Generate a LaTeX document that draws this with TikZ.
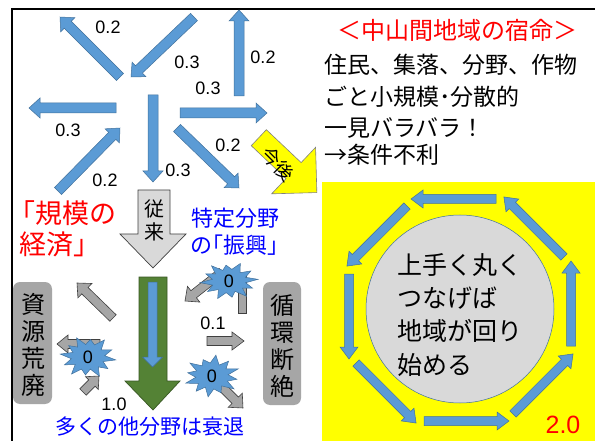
\documentclass[tikz,border=0pt]{standalone}
\usepackage{fontspec}
\setmainfont{Liberation Sans}
\newfontfamily\jp{Noto Sans CJK JP}
\newfontfamily\jpp[RawFeature=+palt]{Noto Sans CJK JP}
\definecolor{bl}{HTML}{5B9BD5}
\definecolor{blo}{HTML}{41719C}
\definecolor{gr}{HTML}{A6A6A6}
\definecolor{gro}{HTML}{404040}
\definecolor{lgr}{HTML}{D9D9D9}
\definecolor{grn}{HTML}{548235}
\definecolor{grno}{HTML}{385723}
\definecolor{txtblue}{HTML}{0000FF}
\definecolor{txtred}{HTML}{FF0000}
\definecolor{yel}{HTML}{FFFF00}
% block arrow: style, x1, y1, x2, y2, half shaft, half head, head length
\newcommand\barrow[8]{%
  \pgfmathsetmacro\baang{atan2(-((#5)-(#3)),(#4)-(#2))}%
  \pgfmathsetmacro\balen{veclen((#4)-(#2),(#5)-(#3))}%
  \pgfmathsetmacro\babase{\balen-(#8)}%
  \begin{scope}[shift={(#2,#3)},rotate=\baang]
    \path[#1] (0,-#6) -- (\babase,-#6) -- (\babase,-#7) -- (\balen,0)
      -- (\babase,#7) -- (\babase,#6) -- (0,#6) -- cycle;
  \end{scope}}
% explosion shape: name, cx, cy, rx, ry, rotation offset
\newcommand\burst[6]{%
  \path[burststyle] ({#2+#4*cos(#6)},{#3-#5*sin(#6)})
    \foreach \a/\f in {14/0.6,30/0.92,44/0.58,62/1.0,76/0.62,92/0.84,106/0.6,122/1.0,
      136/0.6,150/0.88,166/0.58,180/1.0,196/0.6,212/0.92,226/0.58,242/1.0,256/0.62,
      272/0.86,286/0.58,302/1.0,316/0.6,330/0.9,346/0.58}
    { -- ({#2+#4*\f*cos(\a+#6)},{#3-#5*\f*sin(\a+#6)}) } -- cycle;
  \node[lbl] (#1) at (#2,#3) {0};}
\tikzset{
  bluearrow/.style={fill=bl,draw=blo,line width=0.5pt},
  grayarrow/.style={fill=gr,draw=gro,line width=0.6pt},
  lbl/.style={font=\fontsize{18}{18}\selectfont,inner sep=0pt},
  burststyle/.style={fill=bl,draw=blo,line width=0.5pt},
  graybox/.style={fill=gr,rounded corners=7pt},
  vtext/.style={font=\jp\fontsize{24}{27}\selectfont,align=center,inner sep=0pt},
}
\begin{document}
\begin{tikzpicture}[x=1pt,y=-1pt]
\useasboundingbox (0,0) rectangle (595,441);
\fill[white] (0,0) rectangle (595,441);
% frame
\draw[line width=1.5pt] (12,441) -- (12,9) -- (595,9);

% --- upper-left star of blue arrows
\barrow{bluearrow}{120}{77}{60}{17}{5}{10}{11}
\barrow{bluearrow}{194}{17}{131}{77}{5}{10}{11}
\barrow{bluearrow}{239}{96}{239}{10}{5}{10}{11}
\barrow{bluearrow}{180}{113}{267}{113}{5}{10}{11}
\barrow{bluearrow}{116}{108}{29}{108}{5}{10}{11}
\barrow{bluearrow}{58}{191}{120}{128}{5}{10}{11}
\barrow{bluearrow}{153}{95}{153}{182}{5}{10}{11}
\barrow{bluearrow}{177}{128}{239}{188}{5}{10}{11}
\node[lbl] (l1) at (108,27) {0.2};
\node[lbl] (l2) at (187,62) {0.3};
\node[lbl] (l3) at (263,57) {0.2};
\node[lbl] (l4) at (208,88) {0.3};
\node[lbl] (l5) at (68,130) {0.3};
\node[lbl] (l6) at (105,180) {0.2};
\node[lbl] (l7) at (178,170) {0.3};
\node[lbl] (l8) at (228,145) {0.2};

% --- yellow arrow
\barrow{fill=yel,draw=gray,line width=0.6pt}{258.8}{137.7}{317}{192.7}{11}{32}{32}
\node[font=\jp\fontsize{19}{19}\selectfont,rotate=-45,inner sep=0pt] (kongo) at (278,164) {今後};

% --- right text
\node[font=\jp\fontsize{24}{24}\selectfont,text=txtred,inner sep=0pt] (title) at (457,30) {＜中山間地域の宿命＞};
\begin{scope}[every node/.style={font=\jp\fontsize{23}{23}\selectfont,anchor=west,inner sep=0pt}]
\node (r1) at (324,65) {住民、集落、分野、作物};
\node (r2) at (324,97) {ごと小規模･分散的};
\node (r3) at (324,128) {一見バラバラ！};
\node (r4) at (324,155) {→条件不利};
\end{scope}

% --- yellow panel
\fill[yel] (322,182) rectangle (595,441);
\node[circle,fill=lgr,draw=blo,line width=0.5pt,minimum size=188pt] (circ) at (460,309) {};
\foreach \k in {0,...,7}{
  \pgfmathsetmacro\th{90+45*\k}
  \pgfmathsetmacro\cx{460+111*cos(\th)}
  \pgfmathsetmacro\cy{310-111*sin(\th)}
  \pgfmathsetmacro\tx{-sin(\th)}
  \pgfmathsetmacro\ty{-cos(\th)}
  \barrow{bluearrow}{\cx-36*\tx}{\cy-36*\ty}{\cx+49*\tx}{\cy+49*\ty}{4.5}{9}{12}
}
\begin{scope}[every node/.style={font=\jp\fontsize{25}{25}\selectfont,anchor=west,inner sep=0pt}]
\node (c1) at (397,265) {上手く丸く};
\node (c2) at (397,298) {つなげば};
\node (c3) at (397,331) {地域が回り};
\node (c4) at (397,365) {始める};
\end{scope}
\node[font=\fontsize{25}{25}\selectfont,text=txtred,inner sep=0pt] (two) at (563,425) {2.0};

% --- left lower part
\node[font=\jp\fontsize{27}{27}\selectfont,text=txtred,anchor=west,inner sep=0pt] (red1) at (8,213) {「規模の};
\node[font=\jp\fontsize{27}{27}\selectfont,text=txtred,anchor=west,inner sep=0pt] (red2) at (19,244) {経済」};
\node[font=\jp\fontsize{22}{22}\selectfont,text=txtblue,anchor=west,inner sep=0pt] (b1) at (191,218) {特定分野};
\node[font=\jpp\fontsize{22}{22}\selectfont,text=txtblue,anchor=west,inner sep=0pt] (b2) at (191,245) {の「振興」};

% gray arrow 従来
\path[fill=lgr,draw=gro,line width=0.7pt] (138,190) -- (170,190) -- (170,234) -- (186,234)
  -- (153,268) -- (120,234) -- (138,234) -- cycle;
\node[font=\jp\fontsize{20}{23}\selectfont,align=center,inner sep=0pt] (juurai) at (154,220.5) {従\\来};

% green arrow
\path[fill=grn,draw=grno,line width=0.7pt] (139,277) -- (167,277) -- (167,381) -- (180,381)
  -- (153,410) -- (125,381) -- (139,381) -- cycle;
\barrow{bluearrow}{152.5}{282}{152.5}{367}{4.5}{10}{10}

% gray boxes
\fill[graybox] (13,282) rectangle (52,404);
\node[vtext] (shigen) at (33,345) {資\\源\\荒\\廃};
\fill[graybox] (263,282) rectangle (301,405);
\node[vtext] (junkan) at (282,346) {循\\環\\断\\絶};

% small gray arrows
\barrow{grayarrow}{113}{318}{77}{283}{4.5}{10}{11}
\barrow{grayarrow}{100}{344}{57}{344}{4.5}{9}{11}
\barrow{grayarrow}{83}{392}{99}{376}{4.5}{9}{10}
\barrow{grayarrow}{207}{341}{244}{341}{4.5}{9}{12}
\barrow{grayarrow}{205}{370}{243}{408}{4.5}{10}{11}
\barrow{grayarrow}{222}{272}{185}{301}{4.5}{10}{11}
\path[grayarrow] (238,276) rectangle (246,313);

% explosions
\burst{s1}{229}{281}{29}{19}{5}
\burst{s2}{88}{357}{28}{21}{-8}
\burst{s3}{212}{376}{28}{21}{20}

\node[lbl] (l01) at (213,323) {0.1};
\node[lbl] (l10) at (114,404) {1.0};

\node[font=\jp\fontsize{21}{21}\selectfont,text=txtblue,inner sep=0pt] (bottom) at (150,427) {多くの他分野は衰退};
\end{tikzpicture}
\end{document}
